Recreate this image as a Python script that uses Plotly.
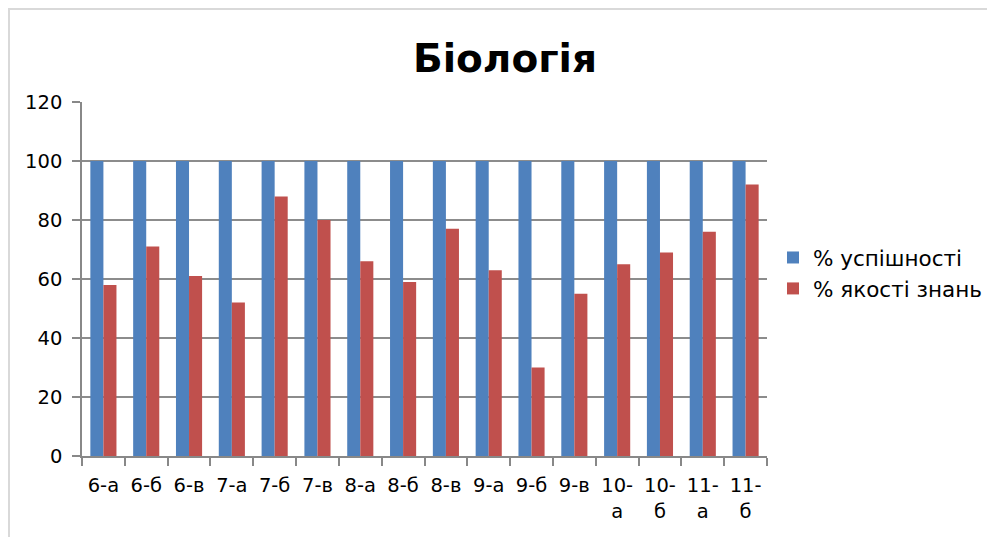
import plotly.graph_objects as go

categories = ["6-а", "6-б", "6-в", "7-а", "7-б", "7-в", "8-а", "8-б", "8-в",
              "9-а", "9-б", "9-в", "10-<br>а", "10-<br>б", "11-<br>а", "11-<br>б"]
uspishnist = [100] * 16
yakist = [58, 71, 61, 52, 88, 80, 66, 59, 77, 63, 30, 55, 65, 69, 76, 92]
y_ticks = [0, 20, 40, 60, 80, 100, 120]

# the page body has an 8px margin, so figure pixel = screen pixel - 8
OFF = 8
W, H = 995 - OFF, 537 - OFF
L, R, T, B = 82 - OFF, 767 - OFF, 102 - OFF, 456 - OFF

def px(x):
    return (x - OFF - L) / (R - L)

def py(y):
    return (B - (y - OFF)) / (B - T)

fig = go.Figure()
fig.add_trace(go.Bar(x=categories, y=uspishnist, name="% успішності",
                     marker=dict(color="#4F81BD", line=dict(width=0))))
fig.add_trace(go.Bar(x=categories, y=yakist, name="% якості знань",
                     marker=dict(color="#C0504D", line=dict(width=0))))

font_family = "DejaVu Sans, sans-serif"
border = dict(color="#D9D9D9", width=2)

fig.update_layout(
    width=W, height=H,
    margin=dict(l=L, r=W - R, t=T, b=H - B, autoexpand=False),
    paper_bgcolor="white", plot_bgcolor="white",
    barmode="group", bargap=0.39, bargroupgap=0,
    font=dict(family=font_family, size=19.5, color="black"),
    title=dict(text="<b>Біологія</b>", x=px(505), xref="paper", xanchor="center",
               y=1 - (58 - OFF) / H, yanchor="middle",
               font=dict(family=font_family, size=39, color="black")),
    showlegend=True,
    legend=dict(x=px(773), y=py(273), xanchor="left", yanchor="middle",
                font=dict(family=font_family, size=21.5),
                itemsizing="constant", bgcolor="rgba(0,0,0,0)"),
    xaxis=dict(type="category", showgrid=False, showline=True, linecolor="#888888",
               linewidth=1.5, ticks="outside", tickson="boundaries", ticklen=8,
               tickcolor="#888888", tickwidth=1.5, ticklabelstandoff=11,
               tickfont=dict(family=font_family, size=19.5)),
    yaxis=dict(range=[0, 120], tickvals=y_ticks, showgrid=True, gridcolor="#8C8C8C",
               gridwidth=1.5, showline=True, linecolor="#888888", linewidth=1.5,
               ticks="outside", ticklen=8, tickcolor="#888888", tickwidth=1.5,
               ticklabelstandoff=6,
               zeroline=False, tickfont=dict(family=font_family, size=19.5)),
    shapes=[
        dict(type="line", xref="paper", yref="paper",
             x0=px(8), x1=px(995), y0=py(9), y1=py(9), line=border, layer="below"),
        dict(type="line", xref="paper", yref="paper",
             x0=px(9), x1=px(9), y0=py(9), y1=py(537), line=border, layer="below"),
    ],
)

fig.write_html("out.html")
